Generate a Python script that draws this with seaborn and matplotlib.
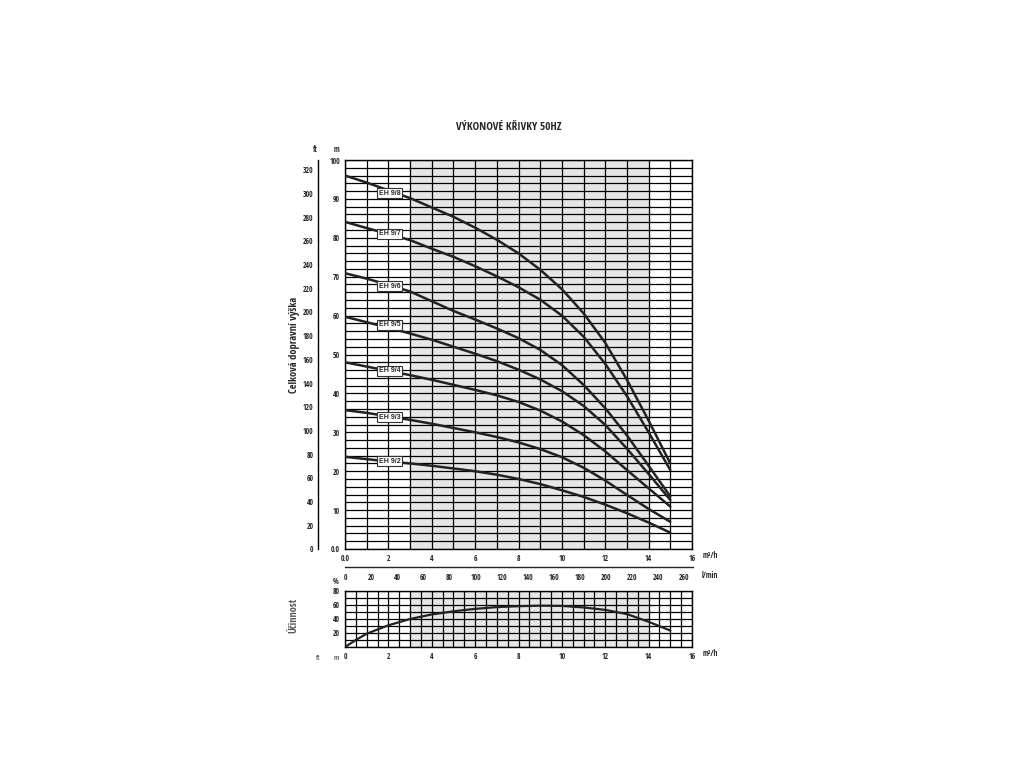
import numpy as np
import pandas as pd
import matplotlib
matplotlib.use("Agg")
import matplotlib.pyplot as plt
import seaborn as sns

# flow (m3/h)
flow = [0, 1, 2, 3, 4, 5, 6, 7, 8, 9, 10, 11, 12, 13, 14, 15]

# head (m) per pump model
head_eh98 = [96.0, 94.2, 92.2, 90.2, 87.8, 85.4, 82.6, 79.5, 76.0, 71.8, 66.8, 60.6, 53.0, 43.5, 33.0, 22.0]
head_eh97 = [84.1, 82.5, 81.0, 79.4, 77.2, 75.1, 72.7, 70.1, 67.3, 64.1, 60.0, 54.6, 47.6, 39.3, 30.0, 20.3]
head_eh96 = [70.9, 69.5, 67.9, 66.2, 63.7, 61.2, 59.0, 56.7, 54.2, 51.2, 47.3, 42.2, 36.2, 29.2, 21.4, 13.5]
head_eh95 = [59.7, 58.3, 56.9, 55.4, 53.8, 52.0, 50.2, 48.3, 46.1, 43.6, 40.6, 36.8, 31.9, 25.8, 19.3, 12.6]
head_eh94 = [48.0, 46.9, 45.8, 44.7, 43.5, 42.2, 40.9, 39.5, 37.8, 35.6, 32.8, 29.3, 25.1, 20.3, 15.6, 10.9]
head_eh93 = [35.7, 35.0, 34.1, 33.2, 32.2, 31.1, 30.0, 28.8, 27.4, 25.7, 23.6, 20.9, 17.6, 13.9, 10.3, 7.0]
head_eh92 = [23.7, 23.1, 22.5, 22.0, 21.4, 20.7, 20.0, 19.1, 18.0, 16.7, 15.1, 13.4, 11.4, 9.2, 6.8, 4.2]

models = ["EH 9/8", "EH 9/7", "EH 9/6", "EH 9/5", "EH 9/4", "EH 9/3", "EH 9/2"]
heads = [head_eh98, head_eh97, head_eh96, head_eh95, head_eh94, head_eh93, head_eh92]
label_y = [91.5, 81.0, 67.6, 57.6, 45.8, 33.9, 22.6]

# efficiency (%)
eff_flow = [0, 0.5, 1, 2, 3, 4, 5, 6, 7, 8, 9, 10, 11, 12, 13, 14, 15]
eff_vals = [0, 10, 19, 31, 40, 46.5, 51, 54.5, 57, 58.3, 59, 58.7, 56.5, 53, 47, 36, 23.5]

df = pd.DataFrame({
    "flow": flow * len(models),
    "head": [h for hs in heads for h in hs],
    "model": [m for m in models for _ in flow],
})
df_eff = pd.DataFrame({"flow": eff_flow, "eff": eff_vals})

sns.set_style("white")
plt.rcParams["font.family"] = ["Open Sans Condensed", "DejaVu Sans"]
plt.rcParams["font.weight"] = "bold"
plt.rcParams["axes.linewidth"] = 1.0

W, H = 1024, 768
fig = plt.figure(figsize=(10.24, 7.68), dpi=100)

def frac(x0, y0, x1, y1):
    return [x0 / W, 1 - y1 / H, (x1 - x0) / W, (y1 - y0) / H]

# main head chart
ax = fig.add_axes(frac(345, 160, 692, 549))
ax.axvspan(3, 14, color="#e6e6e6", zorder=0)
sns.lineplot(data=df, x="flow", y="head", hue="model", palette=["#222222"] * 7,
             legend=False, linewidth=1.8, ax=ax, zorder=3)
ax.set_xlim(0, 16)
ax.set_ylim(0, 100)
ax.set_xticks(np.arange(0, 17, 2))
ax.set_xticklabels(["0.0"] + [str(v) for v in range(2, 17, 2)])
ax.set_xticks(np.arange(0, 17, 1), minor=True)
ax.set_yticks(np.arange(0, 101, 10))
ax.set_yticklabels(["0.0"] + [str(v) for v in range(10, 101, 10)])
ax.set_yticks(np.arange(0, 101, 2), minor=True)
ax.grid(True, which="both", color="black", linewidth=0.9, zorder=1)
ax.set_axisbelow(True)
for s in ax.spines.values():
    s.set_color("black")
ax.tick_params(axis="both", which="major", labelsize=5.5, length=2, pad=1.5, color="black")
ax.tick_params(axis="both", which="minor", length=0)
ax.set_xlabel("")
ax.set_ylabel("")
for m, ly in zip(models, label_y):
    ax.text(2.05, ly, m, fontsize=5, fontweight="bold", ha="center", va="center",
            family=["Liberation Sans", "DejaVu Sans"], zorder=5,
            bbox=dict(boxstyle="square,pad=0.25", fc="white", ec="#333333", lw=0.8))

# ft axis on the left
axft = fig.add_axes(frac(318, 160, 319, 549))
axft.set_ylim(0, 100 * 3.2808)
axft.set_xticks([])
axft.set_yticks(np.arange(0, 321, 20))
axft.set_yticks(np.arange(0, 321, 10), minor=True)
for k in ["top", "right", "bottom"]:
    axft.spines[k].set_visible(False)
axft.spines["left"].set_color("black")
axft.tick_params(axis="y", which="major", labelsize=5.5, length=2.5, direction="inout", pad=2)
axft.tick_params(axis="y", which="minor", length=1.5, direction="in")
axft.patch.set_alpha(0)

# l/min axis below
axl = fig.add_axes(frac(345, 566, 693, 567))
axl.set_xlim(0, 16 * 1000 / 60)
axl.set_yticks([])
axl.set_xticks(np.arange(0, 261, 20))
axl.set_xticks(np.arange(0, 261, 10), minor=True)
for k in ["top", "right", "left"]:
    axl.spines[k].set_visible(False)
axl.tick_params(axis="x", which="major", labelsize=5.5, length=2, direction="in", pad=4)
axl.tick_params(axis="x", which="minor", length=1.2, direction="in")
axl.patch.set_alpha(0)

# efficiency chart
axe = fig.add_axes(frac(345, 591, 692, 647))
axe.axvspan(3, 14, color="#e6e6e6", zorder=0)
sns.lineplot(data=df_eff, x="flow", y="eff", color="#222222", linewidth=1.6, ax=axe, zorder=3)
axe.set_xlim(0, 16)
axe.set_ylim(0, 80)
axe.set_xticks(np.arange(0, 17, 2))
axe.set_xticks(np.arange(0, 16.5, 0.5), minor=True)
axe.set_yticks([20, 40, 60, 80])
axe.set_yticks(np.arange(0, 81, 10), minor=True)
axe.grid(True, which="both", color="black", linewidth=0.9, zorder=1)
axe.set_axisbelow(True)
for s in axe.spines.values():
    s.set_color("black")
axe.tick_params(axis="both", which="major", labelsize=5.5, length=2, pad=1.5)
axe.tick_params(axis="both", which="minor", length=0)
axe.set_xlabel("")
axe.set_ylabel("")

# texts
fig.text(509 / W, 1 - 127 / H, "VÝKONOVÉ KŘIVKY 50HZ", ha="center", va="center", fontsize=8)
fig.text(315 / W, 1 - 150 / H, "ft", ha="center", va="center", fontsize=5.5)
fig.text(336 / W, 1 - 150 / H, "m", ha="center", va="center", fontsize=5.5)
fig.text(295 / W, 1 - 345 / H, "Celková dopravní výška", rotation=90, ha="center", va="center",
         fontsize=7.5)
fig.text(710 / W, 1 - 556 / H, "m³/h", ha="center", va="center", fontsize=5.5)
fig.text(710 / W, 1 - 575 / H, "l/min", ha="center", va="center", fontsize=5.5)
fig.text(336 / W, 1 - 582 / H, "%", ha="center", va="center", fontsize=5.5)
fig.text(294 / W, 1 - 615 / H, "Účinnost", rotation=90, ha="center", va="center",
         fontsize=7.5, color="#555555")
fig.text(710 / W, 1 - 653 / H, "m³/h", ha="center", va="center", fontsize=5.5)
fig.text(318 / W, 1 - 659 / H, "ft", ha="center", va="center", fontsize=5, color="#666666")
fig.text(336 / W, 1 - 659 / H, "m", ha="center", va="center", fontsize=5, color="#666666")

fig.savefig("out.png", dpi=100, facecolor="white")
